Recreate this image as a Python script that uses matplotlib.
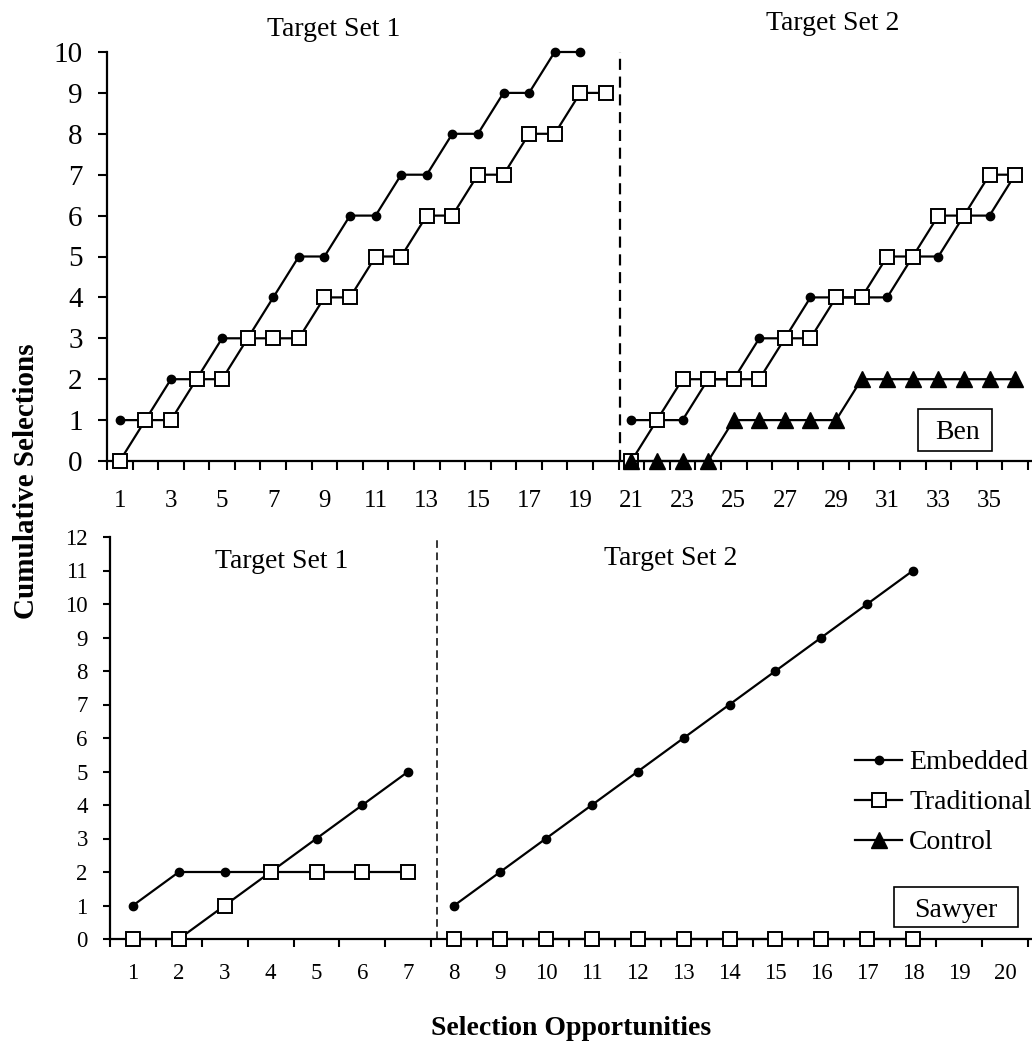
import numpy as np
import matplotlib
matplotlib.use("Agg")
import matplotlib.pyplot as plt
from matplotlib.patches import Rectangle
from matplotlib.lines import Line2D

plt.rcParams['font.family'] = ['Liberation Serif', 'DejaVu Serif']

# Ben (top panel)
ben_x1 = np.arange(1, 21)
ben_emb1 = [1, 1, 2, 2, 3, 3, 4, 5, 5, 6, 6, 7, 7, 8, 8, 9, 9, 10, 10]
ben_trad1 = [0, 1, 1, 2, 2, 3, 3, 3, 4, 4, 5, 5, 6, 6, 7, 7, 8, 8, 9, 9]
ben_x2 = np.arange(21, 37)
ben_emb2 = [1, 1, 1, 2, 2, 3, 3, 4, 4, 4, 4, 5, 5, 6, 6, 7]
ben_trad2 = [0, 1, 2, 2, 2, 2, 3, 3, 4, 4, 5, 5, 6, 6, 7, 7]
ben_ctrl2 = [0, 0, 0, 0, 1, 1, 1, 1, 1, 2, 2, 2, 2, 2, 2, 2]

# Sawyer (bottom panel)
saw_x1 = np.arange(1, 8)
saw_emb1 = [1, 2, 2, 2, 3, 4, 5]
saw_trad1 = [0, 0, 1, 2, 2, 2, 2]
saw_x2 = np.arange(8, 19)
saw_emb2 = [1, 2, 3, 4, 5, 6, 7, 8, 9, 10, 11]
saw_trad2 = [0, 0, 0, 0, 0, 0, 0, 0, 0, 0, 0]

legend_labels = ['Embedded', 'Traditional', 'Control']

W, H = 1032, 1046
def fx(px):
    return px / W
def fy(py):
    return 1 - py / H

emb = dict(color='black', marker='o', ms=6, mfc='black', mec='black', lw=1.6)
trad = dict(color='black', marker='s', ms=10, mfc='white', mec='black', mew=1.4, lw=1.6)
ctrl = dict(color='black', marker='^', ms=11, mfc='black', mec='black', lw=1.6)

fig = plt.figure(figsize=(W / 100, H / 100), dpi=100)
ax1 = fig.add_axes([fx(107), fy(461), 1 - fx(107), (461 - 52) / H])
ax2 = fig.add_axes([fx(110), fy(939), 1 - fx(110), (939 - 537) / H])

# top panel
ax1.plot(ben_x1[:len(ben_emb1)], ben_emb1, clip_on=False, zorder=3, **emb)
ax1.plot(ben_x1, ben_trad1, clip_on=False, zorder=3, **trad)
ax1.plot(ben_x2, ben_emb2, clip_on=False, zorder=3, **emb)
ax1.plot(ben_x2, ben_trad2, clip_on=False, zorder=3, **trad)
ax1.plot(ben_x2, ben_ctrl2, clip_on=False, zorder=3, **ctrl)
ax1.axvline(20.55, color='black', lw=1.6, ls=(0, (5, 3)))
ax1.set_xlim(0.5, 36.66)
ax1.set_ylim(0, 10)
ax1.set_yticks(range(0, 11))
ax1.set_xticks(np.arange(1, 37, 2))
ax1.set_xticks(np.arange(0.5, 37, 1), minor=True)
ax1.tick_params(axis='x', which='major', length=0, labelsize=18, pad=21)
ax1.tick_params(axis='x', which='minor', length=6.5, width=1.5)
ax1.tick_params(axis='y', length=6.5, width=1.5, labelsize=21, pad=11)

# bottom panel
ax2.plot(saw_x1, saw_emb1, clip_on=False, zorder=3, **emb)
ax2.plot(saw_x1, saw_trad1, clip_on=False, zorder=3, **trad)
ax2.plot(saw_x2, saw_emb2, clip_on=False, zorder=3, **emb)
ax2.plot(saw_x2, saw_trad2, clip_on=False, zorder=3, **trad)
ax2.axvline(7.62, color='black', lw=1.1, ls=(0, (5, 3)))
ax2.set_xlim(0.5, 20.59)
ax2.set_ylim(0, 12)
ax2.set_yticks(range(0, 13))
ax2.set_xticks(np.arange(1, 21))
ax2.set_xticks(np.arange(0.5, 21, 1), minor=True)
ax2.tick_params(axis='x', which='major', length=0, labelsize=16.5, pad=17)
ax2.tick_params(axis='x', which='minor', length=5.5, width=1.5)
ax2.tick_params(axis='y', length=5, width=1.5, labelsize=16.5, pad=11)

for ax in (ax1, ax2):
    ax.spines['top'].set_visible(False)
    ax.spines['right'].set_visible(False)
    ax.spines['left'].set_linewidth(1.6)
    ax.spines['bottom'].set_linewidth(1.6)
    ax.set_facecolor('none')

# titles for target sets
fig.text(fx(334), fy(36), 'Target Set 1', fontsize=20, ha='center', va='baseline')
fig.text(fx(833), fy(30), 'Target Set 2', fontsize=20, ha='center', va='baseline')
fig.text(fx(282), fy(568), 'Target Set 1', fontsize=20, ha='center', va='baseline')
fig.text(fx(671), fy(565), 'Target Set 2', fontsize=20, ha='center', va='baseline')

# name boxes
fig.add_artist(Rectangle((fx(918), fy(451)), (992 - 918) / W, (451 - 409) / H,
                         transform=fig.transFigure, fill=False, ec='black', lw=1.2))
fig.text(fx(958), fy(439), 'Ben', fontsize=20, ha='center', va='baseline')
fig.add_artist(Rectangle((fx(894), fy(927)), (1018 - 894) / W, (927 - 887) / H,
                         transform=fig.transFigure, fill=False, ec='black', lw=1.2))
fig.text(fx(956), fy(917), 'Sawyer', fontsize=20, ha='center', va='baseline')

# legend
handles = [Line2D([], [], **emb), Line2D([], [], **trad), Line2D([], [], **ctrl)]
ax2.legend(handles, legend_labels, loc='upper left', bbox_to_anchor=(fx(855), fy(750)),
           bbox_transform=fig.transFigure, frameon=False, fontsize=20,
           handlelength=1.7, handletextpad=0.25, borderpad=0, borderaxespad=0,
           labelspacing=0.52)

fig.text(fx(27), fy(481), 'Cumulative Selections', fontsize=21, fontweight='bold',
         rotation=90, ha='center', va='center')
fig.text(fx(571), fy(1035), 'Selection Opportunities', fontsize=20, fontweight='bold',
         ha='center', va='baseline')

fig.savefig('out.png', dpi=100)
